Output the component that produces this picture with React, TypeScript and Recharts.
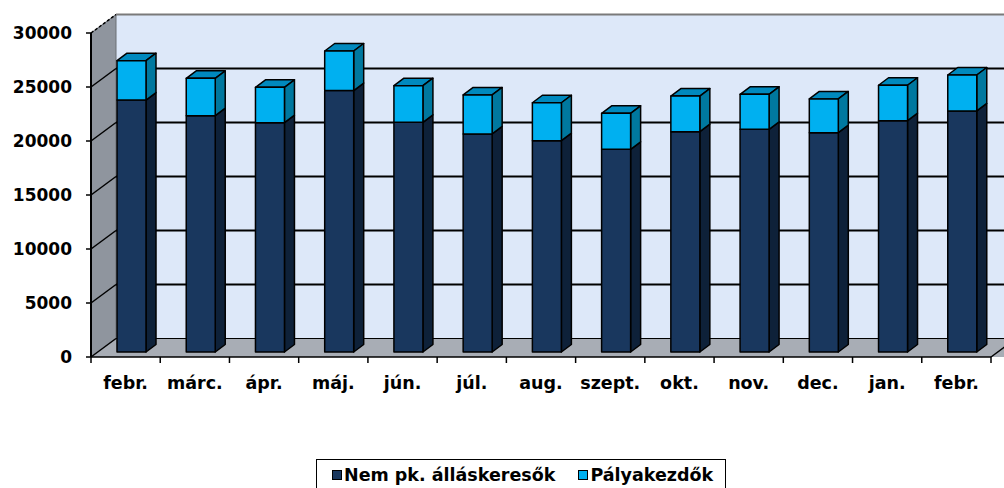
import { Bar, BarChart, CartesianGrid, XAxis, YAxis } from "recharts";

const months = ["febr.", "márc.", "ápr.", "máj.", "jún.", "júl.", "aug.", "szept.", "okt.", "nov.", "dec.", "jan.", "febr."];
const nemPk = [23330, 21880, 21230, 24210, 21270, 20190, 19570, 18770, 20400, 20620, 20310, 21420, 22320];
const palyakezdok = [3640, 3460, 3280, 3660, 3390, 3610, 3510, 3330, 3300, 3240, 3120, 3280, 3330];
const yTicks = [0, 5000, 10000, 15000, 20000, 25000, 30000];
const seriesNames = ["Nem pk. álláskeresők", "Pályakezdők"];

const data = months.map((m, i) => ({ month: m, nemPk: nemPk[i], palya: palyakezdok[i] }));

const FONT = "'DejaVu Sans', Verdana, sans-serif";

// 3d look: wall depth and bar depth offsets
const WALL_DX = 25;
const WALL_DY = -18.5;
const BAR_OFF_X = 6;
const BAR_OFF_Y = -5;
const BAR_DX = 10;
const BAR_DY = -7.5;

const colors = {
  dark: { front: "#19375e", side: "#0e2139", top: "#112a4a" },
  light: { front: "#00b0f0", side: "#00789f", top: "#0089be" },
};

function Bar3D(props: any) {
  const { x, y, width: w, height: h, tone, withTop } = props;
  if (!h || h <= 0) return null;
  const c = colors[tone as "dark" | "light"];
  const fx = x + BAR_OFF_X;
  const fy = y + BAR_OFF_Y;
  return (
    <g stroke="#000" strokeWidth={1.5} strokeLinejoin="round">
      {withTop && (
        <polygon
          points={`${fx},${fy} ${fx + BAR_DX},${fy + BAR_DY} ${fx + w + BAR_DX},${fy + BAR_DY} ${fx + w},${fy}`}
          fill={c.top}
        />
      )}
      <polygon
        points={`${fx + w},${fy} ${fx + w + BAR_DX},${fy + BAR_DY} ${fx + w + BAR_DX},${fy + h + BAR_DY} ${fx + w},${fy + h}`}
        fill={c.side}
      />
      <rect x={fx} y={fy} width={w} height={h} fill={c.front} />
    </g>
  );
}

function GridLine(props: any) {
  const { x1, x2, y1, index } = props;
  const top = props.y ?? 33;
  const bottom = top + (props.height ?? 324);
  const isTop = Math.abs(y1 - top) < 0.5;
  const isBottom = Math.abs(y1 - bottom) < 0.5;
  return (
    <g key={props.key}>
      {index === 0 && (
        <g>
          <rect
            x={x1 + WALL_DX}
            y={top + WALL_DY}
            width={x2 - x1 + 20}
            height={bottom - top}
            fill="#dde8f9"
          />
          <polygon
            points={`${x1},${top} ${x1 + WALL_DX},${top + WALL_DY} ${x1 + WALL_DX},${bottom + WALL_DY} ${x1},${bottom}`}
            fill="#8f959e"
            stroke="#6a6e75"
            strokeWidth={1}
          />
          <polygon
            points={`${x1},${bottom} ${x1 + WALL_DX},${bottom + WALL_DY} ${x2 + WALL_DX + 20},${bottom + WALL_DY} ${x2 + 20},${bottom}`}
            fill="#a8adb5"
          />
        </g>
      )}
      <line
        x1={x1}
        y1={y1}
        x2={x1 + WALL_DX}
        y2={y1 + WALL_DY}
        stroke="#000"
        strokeWidth={1.5}
        strokeDasharray={isTop ? "3 2" : undefined}
      />
      <line
        x1={x1 + WALL_DX}
        y1={y1 + WALL_DY}
        x2={x2 + WALL_DX + 20}
        y2={y1 + WALL_DY}
        stroke={isTop ? "#7a7a7a" : "#000"}
        strokeWidth={isBottom ? 1.2 : 2}
      />
      {isBottom && (
        <line x1={x2} y1={bottom} x2={x2 + WALL_DX} y2={bottom + WALL_DY} stroke="#000" strokeWidth={1.5} />
      )}
    </g>
  );
}

function MonthTick(props: any) {
  const { x, y, payload, index, visibleTicksCount } = props;
  const count = visibleTicksCount || months.length;
  const band = (props.width ?? 900) / count;
  const left = x - band / 2;
  return (
    <g>
      <line x1={left} y1={y} x2={left} y2={y + 6} stroke="#000" strokeWidth={1.5} />
      {index === count - 1 && (
        <line x1={left + band} y1={y} x2={left + band} y2={y + 6} stroke="#000" strokeWidth={1.5} />
      )}
      <text x={x} y={y + 32} textAnchor="middle" fontFamily={FONT} fontWeight="bold" fontSize={17.5} fill="#000">
        {payload.value}
      </text>
    </g>
  );
}

function ValueTick(props: any) {
  const { x, y, payload } = props;
  return (
    <text x={x} y={y + 6} textAnchor="end" fontFamily={FONT} fontWeight="bold" fontSize={17} fill="#000">
      {payload.value}
    </text>
  );
}

const legendItems = [
  { name: seriesNames[0], color: colors.dark.front },
  { name: seriesNames[1], color: colors.light.front },
];

export default function App() {
  return (
    <div style={{ position: "absolute", left: 0, top: 0, width: 1004, height: 488, background: "#fff", overflow: "hidden" }}>
      <BarChart width={1004} height={488} data={data} margin={{ top: 33, right: 13, left: 0, bottom: 71 }} barSize={29}>
        <CartesianGrid vertical={false} horizontal={(p: any) => <GridLine {...p} />} />
        <XAxis
          dataKey="month"
          height={60}
          axisLine={{ stroke: "#000", strokeWidth: 1.5 }}
          tickLine={false}
          tickSize={0}
          tickMargin={0}
          interval={0}
          tick={<MonthTick />}
        />
        <YAxis
          width={91}
          domain={[0, 30000]}
          ticks={yTicks}
          axisLine={{ stroke: "#000", strokeWidth: 2 }}
          tickLine={{ stroke: "#000", strokeWidth: 1.5 }}
          tickSize={5}
          tickMargin={14}
          tick={<ValueTick />}
        />
        <Bar
          dataKey="nemPk"
          name={seriesNames[0]}
          stackId="a"
          isAnimationActive={false}
          shape={(p: any) => <Bar3D {...p} tone="dark" withTop={false} />}
        />
        <Bar
          dataKey="palya"
          name={seriesNames[1]}
          stackId="a"
          isAnimationActive={false}
          shape={(p: any) => <Bar3D {...p} tone="light" withTop />}
        />
      </BarChart>
      <div
        style={{
          position: "absolute",
          left: 316,
          top: 459,
          width: 410,
          height: 40,
          border: "1.5px solid #000",
          background: "#fff",
          display: "flex",
          alignItems: "flex-start",
          paddingTop: 5,
          paddingLeft: 15,
          boxSizing: "border-box",
          fontFamily: FONT,
          fontWeight: "bold",
          fontSize: 17.5,
          color: "#000",
        }}
      >
        {legendItems.map((it, i) => (
          <div key={it.name} style={{ display: "flex", alignItems: "center", marginRight: i === 0 ? 23 : 0 }}>
            <span
              style={{
                display: "inline-block",
                width: 8,
                height: 8,
                background: it.color,
                border: "1px solid #000",
                marginRight: 2,
              }}
            />
            <span style={{ lineHeight: "20px" }}>{it.name}</span>
          </div>
        ))}
      </div>
    </div>
  );
}
